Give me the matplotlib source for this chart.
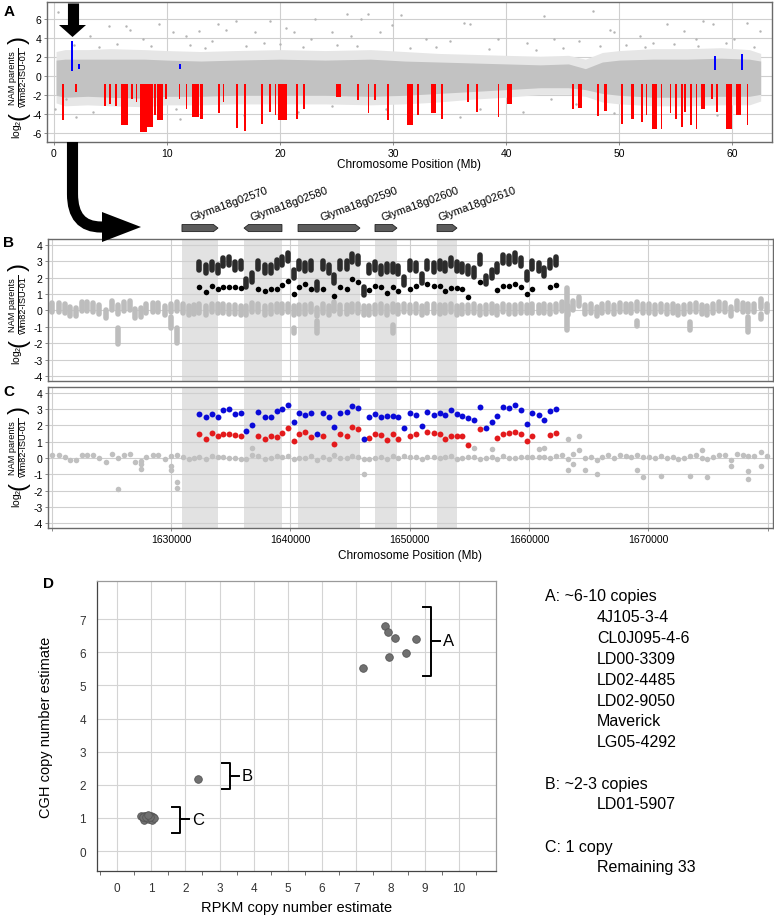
import numpy as np
import matplotlib.pyplot as plt
from matplotlib.patches import Polygon, PathPatch
from matplotlib.path import Path

plt.rcParams['font.family'] = ['Liberation Sans', 'DejaVu Sans']
plt.rcParams['mathtext.fontset'] = 'custom'
plt.rcParams['mathtext.rm'] = 'Liberation Sans'
plt.rcParams['mathtext.it'] = 'Liberation Sans'
plt.rcParams['axes.unicode_minus'] = False

nan = np.nan

# ================================
# PANEL A DATA (chromosome 18, Mb)
# ================================
a_env_pos = [0.2, 1.0, 3.0, 5.0, 8.0, 10.0, 13.0, 16.0, 20.0, 24.0, 28.0, 31.0, 34.0,
             37.0, 40.0, 43.0, 45.5, 47.0, 48.5, 50.0, 53.0, 56.0, 59.0, 61.5, 62.5]
a_env_hi = [1.7, 1.8, 1.8, 1.8, 1.8, 1.7, 1.6, 1.7, 1.8, 1.7, 1.8, 1.6, 1.5,
            1.4, 1.3, 1.2, 1.3, 0.8, 1.5, 1.7, 1.8, 1.8, 1.9, 1.8, 1.6]
a_env_lo = [-2.0, -2.2, -2.1, -2.2, -2.3, -2.1, -2.1, -2.0, -2.0, -2.0, -2.1, -2.0, -1.8,
            -1.6, -1.4, -1.2, -1.2, -1.4, -1.8, -2.0, -2.2, -2.2, -2.1, -2.1, -1.9]
a_fuzz_hi = [2.6, 2.8, 2.8, 2.9, 2.8, 2.7, 2.6, 2.7, 2.8, 2.7, 2.8, 2.6, 2.4,
             2.3, 2.2, 2.1, 2.2, 1.8, 2.5, 2.7, 2.9, 2.9, 3.0, 2.8, 2.4]
a_fuzz_lo = [-2.8, -3.1, -3.0, -3.1, -3.2, -3.0, -3.0, -2.9, -2.9, -2.9, -3.0, -2.9, -2.7,
             -2.4, -2.2, -1.9, -1.9, -2.1, -2.7, -2.9, -3.1, -3.1, -3.0, -3.0, -2.6]
a_out_x = [6.4, 6.7, 9.3, 14.5, 15.2, 17.8, 19.1, 25.9, 27.8, 27.2, 29.9, 10.5, 12.8, 23.1,
           21.2, 4.9, 2.3, 0.4, 16.1, 24.6, 11.7, 20.5, 28.8, 22.7, 3.2, 7.9, 14.0, 18.6, 26.3,
           30.7, 36.3, 36.8, 43.3, 47.7, 49.2, 49.5, 54.2, 55.7, 57.4, 58.3, 61.3, 62.4, 32.9,
           41.8, 44.2, 46.4, 51.8, 53.0, 56.8, 60.1, 39.3, 35.0,
           1.1, 0.1, 3.5, 2.0, 6.4, 10.8, 11.2, 16.8, 29.4, 24.6, 21.6, 35.9, 41.5, 46.2, 49.5,
           37.7, 58.6, 44.0,
           1.8, 4.0, 5.6, 8.6, 12.0, 13.4, 17.0, 20.0, 22.0, 25.0, 26.8, 31.5, 33.8, 38.5,
           42.6, 45.0, 48.3, 50.6, 52.3, 54.8, 57.0, 59.4, 61.9]
a_out_y = [5.3, 4.9, 5.5, 5.5, 4.9, 4.6, 5.8, 6.5, 6.5, 6.0, 5.4, 4.6, 4.8, 6.0,
           4.6, 5.3, 5.3, 6.7, 5.8, 4.6, 4.2, 5.1, 4.6, 3.9, 4.2, 3.9, 3.7, 3.5, 4.2,
           6.4, 5.6, 5.5, 6.3, 6.9, 4.9, 4.6, 5.5, 4.8, 5.8, 5.5, 5.6, 4.8, 3.9,
           3.5, 3.9, 3.7, 4.2, 3.5, 3.9, 3.9, 3.9, 3.7,
           -2.4, -3.4, -3.8, -4.3, -3.8, -3.4, -4.5, -4.1, -3.4, -3.1, -3.8, -4.3, -3.8, -2.9, -3.9,
           -3.4, -4.1, -2.4,
           3.3, 3.1, 3.4, 3.2, 3.3, 3.0, 3.2, 3.4, 3.1, 3.3, 3.2, 3.0, 3.1, 2.9,
           2.8, 3.0, 3.2, 3.3, 3.1, 3.4, 3.2, 3.5, 3.1]
a_red_top = -0.85
a_red_start = [0.75, 1.9, 4.45, 4.9, 5.45, 5.95, 6.85, 7.25, 7.65, 8.25, 8.85, 9.15, 9.85,
               11.05, 11.65, 12.25, 12.95, 14.55, 14.95, 16.15, 16.85, 18.35, 19.05, 19.55,
               19.85, 21.45, 22.05, 24.95, 26.85, 27.75, 28.35, 29.45, 31.25, 32.15, 33.35,
               34.25, 36.55, 37.35, 39.25, 40.05, 45.85, 46.35, 48.05, 48.65, 50.15, 51.05,
               51.95, 52.35, 52.85, 53.65, 54.45, 54.95, 55.45, 55.75, 56.25, 56.75, 57.25,
               58.15, 58.55, 59.45, 60.35, 61.25]
a_red_end = [0.9, 2.0, 4.6, 5.0, 5.6, 6.6, 6.95, 7.35, 8.25, 8.75, 9.05, 9.65, 9.95,
             11.2, 11.75, 12.85, 13.2, 14.65, 15.05, 16.25, 16.95, 18.45, 19.15, 19.65,
             20.6, 21.55, 22.15, 25.35, 26.95, 27.85, 28.45, 29.6, 31.8, 32.25, 33.75,
             34.35, 36.65, 37.45, 39.35, 40.5, 45.95, 46.7, 48.15, 48.9, 50.25, 51.3,
             52.05, 52.45, 53.35, 53.75, 54.55, 55.05, 55.55, 55.85, 56.35, 56.85, 57.6,
             58.25, 58.65, 59.95, 60.75, 61.35]
a_red_bottom = [-4.6, -1.7, -3.1, -2.9, -3.1, -5.1, -2.4, -2.7, -5.8, -5.3, -4.1, -4.6, -2.4,
                -2.4, -3.4, -4.3, -4.5, -3.9, -2.7, -5.4, -5.7, -5.0, -3.7, -4.1,
                -4.6, -4.5, -3.4, -2.2, -2.5, -3.9, -2.5, -4.6, -5.1, -4.1, -3.9,
                -4.5, -2.7, -3.8, -4.3, -2.9, -3.4, -3.3, -4.2, -3.6, -5.0, -4.5,
                -4.8, -4.1, -5.5, -5.5, -3.9, -4.5, -5.3, -3.8, -5.1, -5.5, -3.4,
                -2.4, -3.8, -5.5, -4.1, -5.1]
a_blue_start = [1.5, 2.15, 11.05, 58.4, 60.75]
a_blue_end = [1.65, 2.3, 11.2, 58.55, 60.9]
a_blue_lo = [0.6, 0.8, 0.8, 0.7, 0.7]
a_blue_hi = [3.7, 1.3, 1.3, 2.15, 2.3]

# ================================
# PANEL B/C DATA (bp)
# ================================
gene_names = ["Glyma18g02570", "Glyma18g02580", "Glyma18g02590", "Glyma18g02600", "Glyma18g02610"]
gene_start = [1630920, 1636120, 1640650, 1647100, 1652300]
gene_end = [1633940, 1639300, 1645840, 1648940, 1653970]
gene_strand = [1, -1, 1, 1, 1]
gene_label_x = [1631760, 1636790, 1642650, 1647770, 1652540]

left_pos = [1620030, 1620590, 1621100, 1621530, 1622060, 1622570, 1623000, 1623470, 1623980,
            1624550, 1625060, 1625540, 1626020, 1626530, 1627010, 1627460, 1627940, 1628450,
            1628930, 1629490, 1630000, 1630480, 1630990, 1631470, 1631950]
left_gray = [0.15, 0.15, 0.06, -0.1, -0.15, 0.2, 0.2, 0.15, 0.0, -0.27, 0.27, 0.0, 0.2,
             0.27, -0.25, -0.2, 0.06, 0.15, 0.15, -0.06, 0.1, 0.2, 0.06, -0.06, -0.02]

gene_pos = [1632370, 1632930, 1633410, 1633910, 1634390, 1634890, 1635360, 1635840, 1636290, 1636760,
            1637320, 1637880, 1638350, 1638860, 1639330, 1639780, 1640310, 1640750, 1641230, 1641700,
            1642210, 1642710, 1643240, 1643690, 1644160, 1644720, 1645140, 1645700, 1646150, 1646620,
            1647120, 1647600, 1648070, 1648580, 1649050, 1649550, 1650030, 1650500, 1651010, 1651480,
            1652020, 1652520, 1653000, 1653500, 1653980, 1654420, 1654930, 1655430, 1655880, 1656380,
            1656920, 1657340, 1657840, 1658370, 1658850, 1659320, 1659800, 1660280, 1660810, 1661280,
            1661730, 1662290]
gene_blue = [2.69, 2.52, 2.69, 2.52, 2.94, 3.0, 2.69, 2.75, 1.65, 2.0,
             2.79, 2.52, 2.52, 2.85, 3.0, 3.25, 2.23, 2.75, 2.65, 2.73,
             1.48, 2.75, 2.52, 1.92, 2.75, 2.79, 3.21, 3.06, 1.17, 2.54,
             2.69, 2.48, 2.58, 2.58, 2.48, 1.81, 2.73, 2.65, 1.94, 2.79,
             2.62, 2.76, 2.64, 2.95, 2.68, 2.6, 2.45, 2.31, 3.1, 1.86,
             2.23, 2.58, 3.13, 3.05, 3.22, 2.95, 2.08, 2.76, 2.66, 2.33,
             2.85, 2.99]
gene_red = [1.44, 1.13, 1.5, 1.33, 1.44, 1.44, 1.4, 1.35, nan, nan,
            1.33, 1.17, 1.33, 1.29, 1.54, 1.81, 1.02, 1.44, 1.6, 1.29,
            nan, 1.33, nan, 0.85, 1.44, 1.33, 1.92, 1.75, nan, 1.23,
            1.48, 1.4, 1.08, 1.44, 1.17, nan, 1.33, 1.48, nan, 1.6,
            1.5, 1.48, 1.18, 1.36, 1.36, 1.32, 0.8, nan, 1.75, nan,
            nan, 1.22, 1.46, 1.5, 1.59, 1.44, 1.03, 1.32, nan, nan,
            1.4, 1.55]
gene_gray = [0.06, -0.04, 0.1, 0.06, 0.06, 0.02, 0.02, -0.06, -0.06, 0.15,
             0.1, -0.04, -0.02, 0.1, 0.06, 0.1, -0.06, -0.02, 0.0, 0.1,
             -0.15, 0.06, -0.04, 0.19, 0.02, 0.0, 0.1, 0.06, -0.06, -0.04,
             0.02, 0.06, -0.04, 0.1, 0.0, 0.1, 0.04, 0.08, -0.04, 0.06,
             0.06, 0.0, 0.04, 0.1, -0.04, 0.02, 0.04, 0.08, -0.06, 0.02,
             0.08, -0.04, 0.1, 0.02, 0.02, 0.06, 0.04, 0.06, 0.04, 0.08,
             -0.02, 0.1]

right_pos = [1662800, 1663270, 1663720, 1664220, 1664700, 1665180, 1665680, 1666160, 1666630,
             1667140, 1667610, 1668120, 1668590, 1669100, 1669600, 1670080, 1670550, 1671060,
             1671560, 1672040, 1672510, 1673020, 1673490, 1674000, 1674470, 1674950, 1675450,
             1675960, 1676430, 1676940, 1677410, 1677920, 1678390, 1678900, 1679460, 1679930]
right_gray = [0.2, -0.05, 0.27, 0.47, 0.0, 0.05, -0.1, 0.05, 0.15, 0.0, 0.15, 0.1,
              0.05, 0.2, 0.05, 0.05, 0.0, 0.1, 0.0, 0.05, -0.05, 0.0, 0.1, 0.15,
              0.0, -0.05, 0.05, 0.2, 0.15, -0.1, 0.25, 0.15, 0.1, 0.1, 0.35, 0.1]

# gray outliers, panel B (individual lines, low/high of stacked points)
b_out_pos = [1624550, 1625540, 1627460, 1629070, 1630000, 1630480, 1631470, 1636290, 1636760,
             1640310, 1642210, 1646150, 1646150, 1648580, 1649050, 1653980, 1654930, 1663220,
             1664220, 1664700, 1665680, 1669100, 1669600, 1671060, 1673490, 1674950, 1678390,
             1679460, 1679460]
b_out_lo = [0.77, -2.06, 0.71, 1.5, -1.07, -1.96, 1.5, -1.96, 0.6, -1.37, -1.37, -0.97, -2.14,
            -1.4, -2.97, -0.33, -0.4, -1.2, 1.45, -0.33, -0.65, -0.95, -1.1, -0.97, -1.2, -1.1,
            -1.3, 1.95, -0.5]
b_out_hi = [0.77, -1.07, 0.71, 1.5, -0.38, -1.07, 1.5, -1.96, 0.6, -1.07, -0.67, -0.97, -2.14,
            -0.9, -2.97, -0.33, -0.4, 1.34, 1.45, -0.33, -0.65, -0.65, -1.1, -0.97, -0.7, -1.1,
            -0.4, 1.95, -0.2]

# gray outliers, panel C (means)
c_out_pos = [1625540, 1627460, 1627460, 1630000, 1630000, 1630480, 1630480, 1636760, 1646150,
             1655430, 1656920, 1660810, 1661280, 1663270, 1663270, 1663720, 1664220, 1664700,
             1665680, 1669100, 1669600, 1671060, 1673490, 1674470, 1674950, 1676940, 1678390,
             1678390, 1679460]
c_out_val = [-1.9, -0.4, -0.68, -0.47, -0.72, -1.5, -1.86, 0.6, -1.0, 0.58, 0.52, 0.54, 0.6,
             1.13, -0.75, -0.37, 1.36, -0.73, -0.97, -0.72, -1.2, -1.1, -1.1, 0.5, -1.17,
             -0.47, -0.83, -1.3, -0.47]

bc_xticks = [1620000, 1630000, 1640000, 1650000, 1660000, 1670000, 1680000]
bc_xticklabels = ["", "1630000", "1640000", "1650000", "1660000", "1670000", ""]

# ================================
# PANEL D DATA
# ================================
d_rpkm = [7.84, 7.93, 8.13, 8.74, 8.45, 7.95, 7.2, 2.36,
          0.72, 0.78, 0.85, 0.92, 1.0, 1.05, 0.8, 0.88, 0.95, 1.02, 0.75, 1.08, 0.84, 0.97, 0.9]
d_cgh = [6.8, 6.6, 6.42, 6.4, 5.97, 5.85, 5.53, 2.19,
         1.05, 1.07, 1.05, 1.06, 1.07, 1.02, 0.95, 1.0, 0.97, 0.94, 1.02, 1.0, 1.04, 1.02, 1.08]
d_groups = ["A", "B", "C"]
d_bracket_x = [9.18, 3.3, 1.84]
d_bracket_top = [7.36, 2.65, 1.33]
d_bracket_bottom = [5.28, 1.86, 0.56]
d_bracket_mid = [6.34, 2.27, 0.96]

list_a = ["4J105-3-4", "CL0J095-4-6", "LD00-3309", "LD02-4485", "LD02-9050", "Maverick", "LG05-4292"]
list_b = ["LD01-5907"]
list_c = ["Remaining 33"]

# ================================
# FIGURE
# ================================
W, H = 774, 920
fig = plt.figure(figsize=(W / 100, H / 100), dpi=100)


def px_axes(left, top, right, bottom):
    return fig.add_axes([left / W, 1 - bottom / H, (right - left) / W, (bottom - top) / H])


grid_col = '#cfcfcf'
spine_col = '#6a6a6a'


def style_axes(ax):
    ax.set_axisbelow(True)
    ax.grid(True, color=grid_col, lw=0.8)
    for s in ax.spines.values():
        s.set_color(spine_col)
        s.set_linewidth(1.0)
    ax.tick_params(labelsize=7.5, length=2.5, width=0.6, color='#777777', pad=1.5)


# ---------- A ----------
ax_a = px_axes(47, 3, 772, 143)
ax_a.fill_between(a_env_pos, a_fuzz_lo, a_fuzz_hi, color='#e6e6e6', lw=0, zorder=1)
ax_a.fill_between(a_env_pos, a_env_lo, a_env_hi, color='#c2c2c2', lw=0, zorder=1.2)
ax_a.scatter(a_out_x, a_out_y, s=3, color='#b4b4b4', lw=0, zorder=1.3)
for s, e, b in zip(a_red_start, a_red_end, a_red_bottom):
    ax_a.bar(s, b - a_red_top, width=max(e - s, 0.14), bottom=a_red_top, align='edge',
             color='#ff0000', lw=0, zorder=2)
for s, e, lo, hi in zip(a_blue_start, a_blue_end, a_blue_lo, a_blue_hi):
    ax_a.bar(s, hi - lo, width=max(e - s, 0.18), bottom=lo, align='edge',
             color='#0000ff', lw=0, zorder=2)
ax_a.set_xlim(-0.6, 63.5)
ax_a.set_ylim(-6.9, 7.8)
ax_a.set_xticks(range(0, 70, 10))
ax_a.set_yticks(range(-6, 8, 2))
style_axes(ax_a)
ax_a.set_xlabel("Chromosome Position (Mb)", fontsize=8.5)
ax_a.xaxis.set_label_coords(0.5, -0.115)

# ---------- B and C ----------
ax_b = px_axes(48, 240, 773, 382)
ax_c = px_axes(48, 388, 773, 529)

all_pos = np.array(left_pos + gene_pos + right_pos)
all_gray = np.array(left_gray + gene_gray + right_gray)
gpos = np.array(gene_pos)
gblue = np.array(gene_blue)
gred = np.array(gene_red)
has_red = ~np.isnan(gred)

for ax in (ax_b, ax_c):
    for s, e in zip(gene_start, gene_end):
        ax.axvspan(s, e, color='#e2e2e2', lw=0, zorder=0.2)
    ax.set_xlim(1619690, 1680460)
    ax.set_xticks(bc_xticks)
    ax.set_yticks(range(-4, 5))
    ax.set_ylim(-4.3, 4.35)
    style_axes(ax)

# B: stacked points of individual lines drawn as round-capped columns
half_gray, half_black = 0.27, 0.25
ax_b.vlines(all_pos, all_gray - half_gray + 0.05, all_gray + half_gray + 0.05, color='#bdbdbd',
            lw=4, capstyle='round', zorder=2)
ax_b.vlines(b_out_pos, b_out_lo, b_out_hi, color='#bdbdbd', lw=4, capstyle='round', zorder=2)
ax_b.vlines(gpos, gblue - half_black, gblue + half_black, color='#2b2b2b', lw=4,
            capstyle='round', zorder=3)
ax_b.scatter(gpos[has_red], gred[has_red], s=16, color='#000000', lw=0, zorder=3)
ax_b.set_xticklabels([])
ax_b.tick_params(axis='x', length=0)

# gene models above B
xt = ax_b.get_xaxis_transform()
yc, hh, tip = 1.077, 0.025, 380
for s, e, st, name, lx in zip(gene_start, gene_end, gene_strand, gene_names, gene_label_x):
    if st > 0:
        pts = [(s, yc - hh), (e - tip, yc - hh), (e, yc), (e - tip, yc + hh), (s, yc + hh)]
    else:
        pts = [(e, yc - hh), (s + tip, yc - hh), (s, yc), (s + tip, yc + hh), (e, yc + hh)]
    ax_b.add_patch(Polygon(pts, closed=True, transform=xt, clip_on=False,
                           fc='#5c5c5c', ec='#222222', lw=0.6))
    ax_b.text(lx, 1.135, name, transform=xt, rotation=20, rotation_mode='anchor',
              ha='left', va='baseline', fontsize=8)

# C: group means
ax_c.scatter(all_pos, all_gray, s=16, color='#c0c0c0', lw=0, zorder=2)
ax_c.scatter(c_out_pos, c_out_val, s=16, color='#c0c0c0', lw=0, zorder=2)
ax_c.scatter(gpos[has_red], gred[has_red], s=18, color='#e31a1c', lw=0, zorder=3)
ax_c.scatter(gpos, gblue, s=18, color='#0a0ad8', lw=0, zorder=3)
ax_c.set_xticklabels(bc_xticklabels)
ax_c.set_xlabel("Chromosome Position (Mb)", fontsize=8.5)
ax_c.xaxis.set_label_coords(0.5, -0.15)

# ---------- D ----------
ax_d = px_axes(97, 582, 496, 872)
ax_d.scatter(d_rpkm, d_cgh, s=30, color='#707070', edgecolor='#555555', lw=0.6, zorder=3)
ax_d.set_xlim(-0.58, 11.08)
ax_d.set_ylim(-0.6, 8.15)
ax_d.set_xticks(range(0, 11))
ax_d.set_yticks(range(0, 8))
ax_d.set_xticks(np.arange(-0.5, 11, 1.0), minor=True)
ax_d.set_axisbelow(True)
ax_d.grid(True, color='#d4d4d4', lw=0.8)
for sname, s in ax_d.spines.items():
    s.set_color('#444444' if sname in ('left', 'bottom') else '#9a9a9a')
    s.set_linewidth(0.9)
ax_d.tick_params(which='major', length=0, labelsize=8.5, pad=8, colors='#333333')
ax_d.tick_params(which='minor', axis='x', length=3, color='#555555')
ax_d.set_xlabel("RPKM copy number estimate", fontsize=10.5)
ax_d.xaxis.set_label_coords(0.5, -0.1)
ax_d.set_ylabel("CGH copy number estimate", fontsize=10.5)
ax_d.yaxis.set_label_coords(-0.11, 0.5)
for g, bx, bt, bb, bm in zip(d_groups, d_bracket_x, d_bracket_top, d_bracket_bottom, d_bracket_mid):
    ax_d.plot([bx - 0.22, bx, bx, bx - 0.22], [bt, bt, bb, bb], color='k', lw=1.4,
              solid_joinstyle='round', zorder=4)
    ax_d.plot([bx, bx + 0.27], [bm, bm], color='k', lw=1.4, zorder=4)
    ax_d.text(bx + 0.35, bm, g, fontsize=12, ha='left', va='center', zorder=4)

# ---------- overlay: panel letters, y labels, arrows, list ----------
ov = fig.add_axes([0, 0, 1, 1], zorder=10)
ov.set_xlim(0, W)
ov.set_ylim(H, 0)
ov.axis('off')
for lab, x, y in [("A", 9, 12), ("B", 9, 243), ("C", 9, 392), ("D", 49, 584)]:
    ov.text(x, y, lab, fontsize=11, fontweight='bold', ha='center', va='center')

# log2(NAM parents / Wm82-ISU-01), built from pieces so the brackets span the fraction
for frac_y, log_y in [(78, 129), (305, 355), (448, 498)]:
    cx = 18
    ov.plot([cx, cx], [frac_y - 29, frac_y + 29], color='k', lw=0.7)
    ov.text(cx - 5.2, frac_y, "NAM parents", rotation=90, ha='center', va='center', fontsize=6.6)
    ov.text(cx + 5.6, frac_y, "Wm82-ISU-01", rotation=90, ha='center', va='center', fontsize=6.6)
    ov.text(cx + 0.5, frac_y + 38, "(", rotation=90, ha='center', va='center', fontsize=17)
    ov.text(cx + 0.5, frac_y - 38, ")", rotation=90, ha='center', va='center', fontsize=17)
    ov.text(cx - 1, log_y, r"log$_2$", rotation=90, ha='center', va='center', fontsize=7.5)

# down arrow
ov.plot([72.5, 72.5], [4, 27], color='k', lw=8, solid_capstyle='butt')
ov.add_patch(Polygon([(59, 26), (86, 26), (72.5, 38)], closed=True, fc='k', ec='none'))
# curved arrow
verts = [(72.5, 143), (72.5, 195), (72.5, 228), (101, 228), (104, 228)]
codes = [Path.MOVETO, Path.LINETO, Path.CURVE3, Path.CURVE3, Path.LINETO]
ov.add_patch(PathPatch(Path(verts, codes), fc='none', ec='k', lw=8, capstyle='butt'))
ov.add_patch(Polygon([(102, 213), (102, 243), (141, 228)], closed=True, fc='k', ec='none'))

# group listing
fs = 11.5
ov.text(545, 597, "A: ~6-10 copies", fontsize=fs, va='center')
for i, name in enumerate(list_a):
    ov.text(597, 618 + i * 20.8, name, fontsize=fs, va='center')
ov.text(545, 785, "B: ~2-3 copies", fontsize=fs, va='center')
for i, name in enumerate(list_b):
    ov.text(597, 805 + i * 20.8, name, fontsize=fs, va='center')
ov.text(545, 848, "C: 1 copy", fontsize=fs, va='center')
for i, name in enumerate(list_c):
    ov.text(597, 868 + i * 20.8, name, fontsize=fs, va='center')

fig.savefig("out.png", dpi=100)
